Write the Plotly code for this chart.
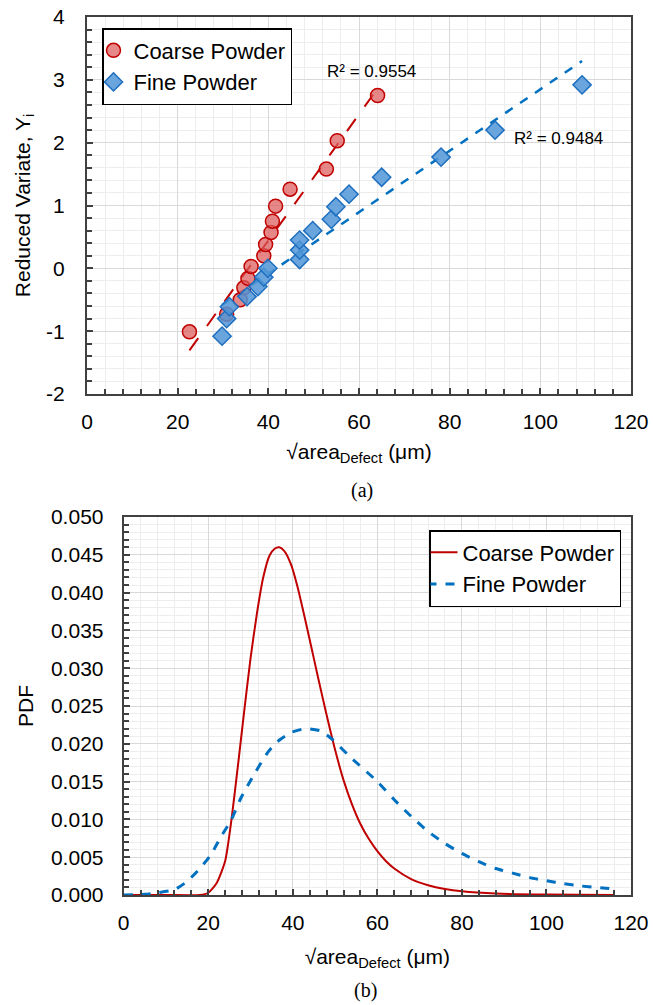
import numpy as np
import plotly.graph_objects as go

# ---------------- data ----------------
coarse_x = [22.6, 30.8, 33.8, 34.6, 35.5, 36.2, 39.0, 39.4, 40.6, 40.9, 41.6, 44.8, 52.8, 55.2, 64.1]
coarse_y = [-1.01, -0.73, -0.50, -0.31, -0.16, 0.03, 0.20, 0.38, 0.57, 0.75, 0.99, 1.26, 1.58, 2.03, 2.75]

fine_x = [29.8, 30.8, 31.4, 35.3, 37.7, 39.0, 39.9, 46.9, 46.9, 46.9, 49.8, 53.9, 54.9, 57.8, 65.0, 78.1, 90.0, 109.2]
fine_y = [-1.08, -0.80, -0.61, -0.45, -0.29, -0.14, 0.00, 0.14, 0.29, 0.45, 0.60, 0.78, 0.98, 1.18, 1.45, 1.77, 2.20, 2.92]

r2_coarse = "R² = 0.9554"
r2_fine = "R² = 0.9484"

pdf_coarse_x = [0, 10, 18, 20, 22, 24, 25.5, 27, 28.5, 30, 31.5, 33, 34.5, 35.7, 36.8, 38, 39.6, 41.1, 42.7,
                44.3, 46, 48, 50, 52, 54, 56, 58, 60, 62, 64, 68, 72, 76, 80, 88, 100, 116]
pdf_coarse_y = [0, 0, 0.0000, 0.0003, 0.0016, 0.0045, 0.0100, 0.0170, 0.0243, 0.0313, 0.0372, 0.0420,
                0.0449, 0.0458, 0.0460, 0.0455, 0.0437, 0.0408, 0.0370, 0.0330, 0.0287, 0.0238, 0.0192,
                0.0152, 0.0120, 0.0094, 0.0074, 0.0058, 0.0045, 0.0035, 0.0021, 0.0013, 0.0008, 0.0005,
                0.0002, 0.00005, 0.0]

pdf_fine_x = [0, 5, 8, 12, 15, 18, 20.6, 23, 25.4, 27.7, 30.9, 34, 36.4, 39.6, 43, 46.6, 49.3, 53.5, 60,
              64, 68, 72, 76, 80, 84, 88, 92, 96, 100, 104, 108, 112, 116]
pdf_fine_y = [0, 0.0001, 0.0003, 0.0007, 0.0018, 0.0035, 0.0053, 0.0077, 0.0099, 0.0128, 0.0160, 0.0188,
              0.0203, 0.0215, 0.0220, 0.0217, 0.0206, 0.0183, 0.0150, 0.0126, 0.0104, 0.0084, 0.0068,
              0.0055, 0.0044, 0.0035, 0.0029, 0.0023, 0.0019, 0.0015, 0.0012, 0.0010, 0.0008]

top_y_ticks = [-2, -1, 0, 1, 2, 3, 4]
top_y_labels = ["-2", "-1", "0", "1", "2", "3", "4"]

# ---------------- style ----------------
W, H = 653, 1005
FONT = "Liberation Sans, Arial, sans-serif"
SERIF = "Liberation Serif, Times New Roman, serif"
RED = "#C00000"
BLUE = "#0070C0"
FRAME = "#404040"
GRID_MAJ = "#D9D9D9"
GRID_MIN = "#EDEDED"


def trend(x, y):
    x = np.asarray(x, float)
    y = np.asarray(y, float)
    m, b = np.polyfit(x, y, 1)
    xs = np.array([x.min(), x.max()])
    return xs, m * xs + b


fig = go.Figure()

# ---- top: reduced variate ----
tcx, tcy = trend(coarse_x, coarse_y)
tfx, tfy = trend(fine_x, fine_y)
fig.add_trace(go.Scatter(x=tcx, y=tcy, mode="lines", showlegend=False,
                         line=dict(color=RED, width=2, dash="longdash"), xaxis="x", yaxis="y"))
fig.add_trace(go.Scatter(x=tfx, y=tfy, mode="lines", showlegend=False,
                         line=dict(color=BLUE, width=2.5, dash="dash"), xaxis="x", yaxis="y"))
fig.add_trace(go.Scatter(x=coarse_x, y=coarse_y, mode="markers", name="Coarse Powder",
                         marker=dict(symbol="circle", size=14, color="rgba(222,90,90,0.72)",
                                     line=dict(color=RED, width=1.5)),
                         xaxis="x", yaxis="y", legend="legend"))
fig.add_trace(go.Scatter(x=fine_x, y=fine_y, mode="markers", name="Fine Powder",
                         marker=dict(symbol="diamond", size=14, color="rgba(80,150,215,0.85)",
                                     line=dict(color="#1F6FC0", width=1.5)),
                         xaxis="x", yaxis="y", legend="legend"))

# ---- bottom: PDF ----
fig.add_trace(go.Scatter(x=pdf_coarse_x, y=pdf_coarse_y, mode="lines", name="Coarse Powder",
                         line=dict(color=RED, width=2, shape="spline", smoothing=0.6),
                         xaxis="x2", yaxis="y2", legend="legend2"))
fig.add_trace(go.Scatter(x=pdf_fine_x, y=pdf_fine_y, mode="lines", name="Fine Powder",
                         line=dict(color=BLUE, width=3, dash="dash", shape="spline", smoothing=0.6),
                         xaxis="x2", yaxis="y2", legend="legend2"))


def axis_common(**kw):
    d = dict(showline=True, linecolor=FRAME, linewidth=2, mirror=True,
             ticks="inside", ticklen=6, tickwidth=1.5, tickcolor=FRAME,
             showgrid=True, gridcolor=GRID_MAJ, gridwidth=1, zeroline=False,
             tickfont=dict(family=FONT, size=21, color="#000000"),
             ticklabelstandoff=8, automargin=False)
    d.update(kw)
    return d


xt = "√area<sub>Defect</sub> (μm)"

fig.update_layout(
    width=W, height=H,
    margin=dict(l=0, r=0, t=0, b=0, pad=0, autoexpand=False),
    paper_bgcolor="white", plot_bgcolor="white",
    font=dict(family=FONT, color="#000000"),
    xaxis=axis_common(domain=[87 / W, 631 / W], range=[0, 120], dtick=20, anchor="y",
                      minor=dict(dtick=4, ticks="inside", ticklen=5, tickcolor=FRAME,
                                 showgrid=True, gridcolor=GRID_MIN, gridwidth=1),
                      title=dict(text=xt, font=dict(family=FONT, size=21), standoff=12)),
    yaxis=axis_common(domain=[1 - 394 / H, 1 - 17 / H], range=[-2, 4], anchor="x",
                      tickmode="array", tickvals=top_y_ticks, ticktext=top_y_labels,
                      minor=dict(dtick=0.2, tick0=0, ticks="inside", ticklen=5, tickcolor=FRAME,
                                 showgrid=True, gridcolor=GRID_MIN, gridwidth=1),
                      ticklabelstandoff=16,
                      title=dict(text="Reduced Variate, Y<sub>i</sub>", font=dict(family=FONT, size=21),
                                 standoff=10)),
    xaxis2=axis_common(domain=[123.7 / W, 631 / W], range=[0, 120], dtick=20, anchor="y2",
                       minor=dict(dtick=4, ticks="inside", ticklen=5, tickcolor=FRAME,
                                  showgrid=True, gridcolor=GRID_MIN, gridwidth=1),
                       title=dict(text=xt, font=dict(family=FONT, size=21), standoff=16)),
    yaxis2=axis_common(domain=[1 - 895 / H, 1 - 517 / H], range=[0, 0.05], dtick=0.005, anchor="x2",
                       tickformat=".3f",
                       minor=dict(dtick=0.001, ticks="inside", ticklen=5, tickcolor=FRAME,
                                  showgrid=True, gridcolor=GRID_MIN, gridwidth=1),
                       ticklabelstandoff=14,
                       title=dict(text="PDF", font=dict(family=FONT, size=21), standoff=12)),
    legend=dict(x=102 / W, y=1 - 28 / H, xanchor="left", yanchor="top",
                bgcolor="white", bordercolor="#000000", borderwidth=1.5,
                font=dict(family=FONT, size=22, color="#000000"), tracegroupgap=0,
                indentation=-10),
    legend2=dict(x=621 / W, y=1 - 530 / H, xanchor="right", yanchor="top",
                 bgcolor="white", bordercolor="#000000", borderwidth=1.5,
                 font=dict(family=FONT, size=22, color="#000000"), tracegroupgap=0,
                 itemwidth=30, indentation=-8),
    annotations=[
        dict(x=62.8, y=3.13, xref="x", yref="y", text=r2_coarse, showarrow=False,
             xanchor="center", yanchor="middle",
             font=dict(family=FONT, size=17, color="#000000")),
        dict(x=104, y=2.06, xref="x", yref="y", text=r2_fine, showarrow=False,
             xanchor="center", yanchor="middle",
             font=dict(family=FONT, size=17, color="#000000")),
        dict(x=362 / W, y=1 - 490 / H, xref="paper", yref="paper", text="(a)", showarrow=False,
             xanchor="center", yanchor="middle",
             font=dict(family=SERIF, size=20, color="#000000")),
        dict(x=365 / W, y=1 - 990 / H, xref="paper", yref="paper", text="(b)", showarrow=False,
             xanchor="center", yanchor="middle",
             font=dict(family=SERIF, size=20, color="#000000")),
    ],
)

fig.write_html("out.html")
